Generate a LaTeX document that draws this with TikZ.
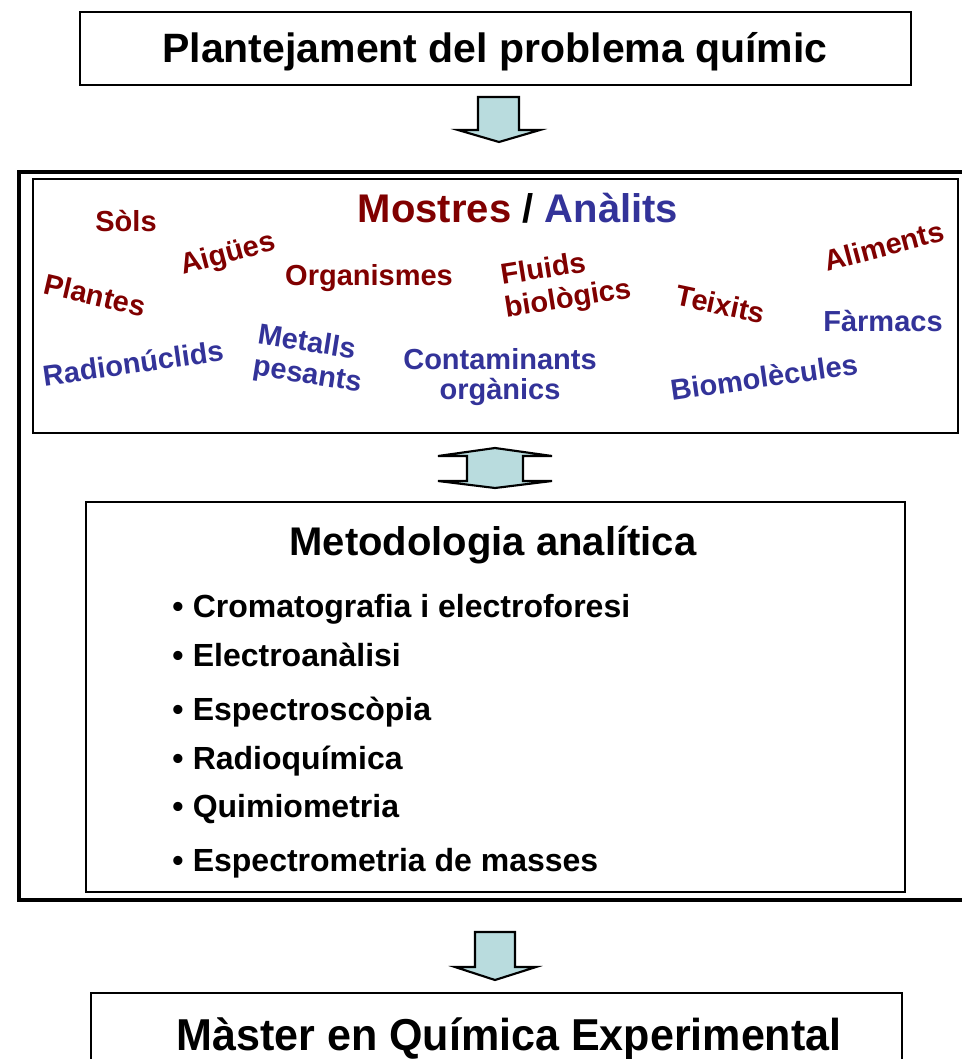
\documentclass[tikz,border=0pt]{standalone}
\usepackage{fontspec}
\setmainfont{Liberation Sans}
\usepackage{graphicx}
\definecolor{mred}{RGB}{128,0,0}
\definecolor{mblue}{RGB}{51,51,153}
\definecolor{arrowfill}{RGB}{185,220,222}
\newcommand\pxf[1]{\fontsize{#1}{#1}\selectfont\bfseries}
\tikzset{
  frame/.style={draw=black, line width=1.5pt, fill=white, inner sep=0pt},
  bigframe/.style={draw=black, line width=3.2pt, inner sep=0pt},
  blockarrow/.style={draw=black, line width=1.6pt, fill=arrowfill, line join=miter},
  titletext/.style={font=\pxf{30.75pt}, inner sep=0pt},
  headtext/.style={font=\pxf{30pt}, inner sep=0pt},
  redword/.style={font=\pxf{21.75pt}, text=mred, inner sep=0pt, align=center},
  blueword/.style={font=\pxf{21.75pt}, text=mblue, inner sep=0pt, align=center},
  bullettext/.style={font=\pxf{24pt}, inner sep=0pt, anchor=base west},
}
\begin{document}
\begin{tikzpicture}[x=0.75pt,y=-0.75pt]
\useasboundingbox (0,0) rectangle (962,1059);
\clip (0,0) rectangle (962,1059);
% top box
\node[frame, minimum width=623.25pt, minimum height=54.75pt] (top) at (495.5,48.5) {};
\node[titletext] (toptext) at (495,52) {Plantejament del problema químic};
% arrow 1
\draw[blockarrow] (478,97) -- (519,97) -- (519,130) -- (540,130) -- (499,142) -- (458,130) -- (478,130) -- cycle;
% outer thick frame
\node[bigframe, minimum width=717pt, minimum height=546pt] (outer) at (497,536) {};
% mostres box
\node[frame, minimum width=693.75pt, minimum height=190.5pt] (mostres) at (495.5,306) {};
\node[headtext] (mtitle) at (518,208) {\textcolor{mred}{Mostres} / \textcolor{mblue}{Anàlits}};
\node[redword] (sols) at (126,221) {Sòls};
\node[redword, rotate=15] (aigues) at (228,255) {Aigües};
\node[redword, rotate=-13] (plantes) at (95,295) {Plantes};
\node[redword] (organismes) at (369,278) {Organismes};
\node[redword, rotate=9] (fluids) at (543,268) {Fluids};
\node[redword, rotate=9] (biologics) at (568,300) {biològics};
\node[redword, rotate=-12] (teixits) at (721,304) {Teixits};
\node[redword, rotate=15] (aliments) at (884,246) {Aliments};
\node[blueword] (farmacs) at (883,321) {Fàrmacs};
\node[blueword, rotate=8] (radio) at (133,363) {Radionúclids};
\node[blueword, rotate=-9] (metalls) at (307,341) {Metalls};
\node[blueword, rotate=-9] (pesants) at (307,377) {pesants};
\node[blueword] (contam) at (500,359) {Contaminants};
\node[blueword] (organics) at (500,392) {orgànics};
\node[blueword, rotate=8] (biomol) at (764,377) {Biomolècules};
% double arrow
\draw[blockarrow] (467,456) -- (438,456) -- (495,448) -- (552,456) -- (523,456) -- (523,481) -- (552,481) -- (495,488) -- (438,481) -- (467,481) -- cycle;
% metodologia box
\node[frame, minimum width=614.25pt, minimum height=292.5pt] (metod) at (495.5,697) {};
\node[headtext] (metodtitle) at (493,545) {Metodologia analítica};
\node[bullettext] (b1) at (172,617) {•\kern7pt Cromatografia i electroforesi};
\node[bullettext] (b2) at (172,666) {•\kern7pt Electroanàlisi};
\node[bullettext] (b3) at (172,720) {•\kern7pt Espectroscòpia};
\node[bullettext] (b4) at (172,769) {•\kern7pt Radioquímica};
\node[bullettext] (b5) at (172,817) {•\kern7pt Quimiometria};
\node[bullettext] (b6) at (172,871) {•\kern7pt Espectrometria de masses};
% arrow 3
\draw[blockarrow] (475,932) -- (515,932) -- (515,967) -- (536,967) -- (495,980) -- (455,967) -- (475,967) -- cycle;
% bottom box
\node[frame, minimum width=608.25pt, minimum height=60pt] (bottom) at (496.5,1033) {};
\node[titletext, anchor=base] (bottomtext) at (509,1050) {\scalebox{1.05}[1.09]{Màster en Química Experimental}};
\end{tikzpicture}
\end{document}
